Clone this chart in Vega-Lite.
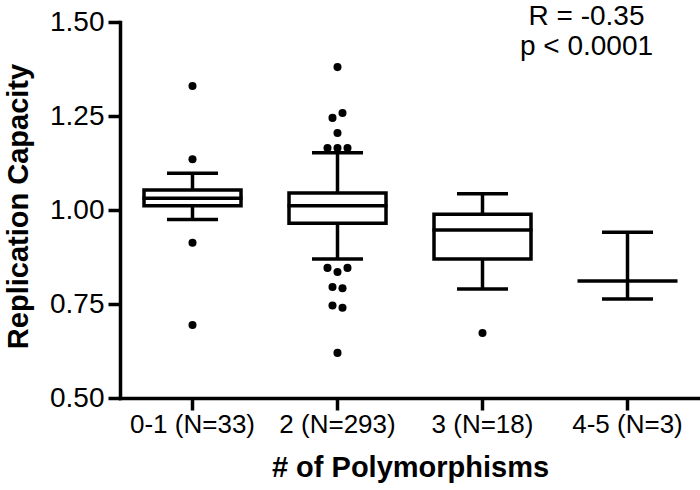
{
  "$schema": "https://vega.github.io/schema/vega-lite/v6.json",
  "width": 580,
  "height": 376,
  "autosize": {"type": "none"},
  "padding": {"left": 120, "top": 22, "right": 0, "bottom": 92},
  "background": "white",
  "config": {
    "view": {"stroke": null},
    "axis": {
      "domainColor": "black", "domainWidth": 3.5, "domainCap": "square",
      "tickColor": "black", "tickWidth": 3.5, "tickSize": 12,
      "labelColor": "black", "labelFont": "Liberation Sans",
      "titleFont": "Liberation Sans", "titleFontWeight": "bold", "titleFontSize": 29, "titleColor": "black",
      "grid": false
    },
    "axisX": {"labelFontSize": 26, "labelPadding": 1, "labelAngle": 0},
    "axisY": {"labelFontSize": 28, "labelPadding": 4}
  },
  "datasets": {
    "stats": [
      {"g": "0-1 (N=33)", "lo": 0.975, "q1": 1.011, "med": 1.031, "q3": 1.053, "hi": 1.098},
      {"g": "2 (N=293)", "lo": 0.870, "q1": 0.965, "med": 1.011, "q3": 1.045, "hi": 1.152},
      {"g": "3 (N=18)", "lo": 0.790, "q1": 0.870, "med": 0.947, "q3": 0.989, "hi": 1.043},
      {"g": "4-5 (N=3)", "lo": 0.763, "q1": null, "med": 0.811, "q3": null, "hi": 0.941}
    ],
    "out": [
      {"g": "0-1 (N=33)", "v": 1.330, "j": 0},
      {"g": "0-1 (N=33)", "v": 1.135, "j": 0},
      {"g": "0-1 (N=33)", "v": 0.913, "j": 0},
      {"g": "0-1 (N=33)", "v": 0.694, "j": 0},
      {"g": "2 (N=293)", "v": 1.380, "j": 0},
      {"g": "2 (N=293)", "v": 1.258, "j": 0.5},
      {"g": "2 (N=293)", "v": 1.245, "j": -0.5},
      {"g": "2 (N=293)", "v": 1.205, "j": 0},
      {"g": "2 (N=293)", "v": 1.165, "j": -1},
      {"g": "2 (N=293)", "v": 1.165, "j": 0},
      {"g": "2 (N=293)", "v": 1.165, "j": 1},
      {"g": "2 (N=293)", "v": 0.846, "j": -1},
      {"g": "2 (N=293)", "v": 0.835, "j": 0},
      {"g": "2 (N=293)", "v": 0.846, "j": 1},
      {"g": "2 (N=293)", "v": 0.795, "j": -0.5},
      {"g": "2 (N=293)", "v": 0.792, "j": 0.5},
      {"g": "2 (N=293)", "v": 0.746, "j": -0.5},
      {"g": "2 (N=293)", "v": 0.740, "j": 0.5},
      {"g": "2 (N=293)", "v": 0.620, "j": 0},
      {"g": "3 (N=18)", "v": 0.673, "j": 0}
    ]
  },
  "encoding": {
    "x": {
      "field": "g", "type": "nominal", "sort": null,
      "scale": {"domain": ["0-1 (N=33)", "2 (N=293)", "3 (N=18)", "4-5 (N=3)"], "paddingInner": 0, "paddingOuter": 0},
      "axis": {"title": "# of Polymorphisms", "titleBaseline": "alphabetic", "titleY": 78, "titleX": 290, "titleAlign": "center"}
    }
  },
  "layer": [
    {
      "data": {"name": "stats"},
      "mark": {"type": "rule", "color": "black", "strokeWidth": 3.5},
      "encoding": {
        "y": {
          "field": "lo", "type": "quantitative",
          "scale": {"domain": [0.5, 1.5], "nice": false, "zero": false},
          "axis": {"title": "Replication Capacity", "values": [0.5, 0.75, 1.0, 1.25, 1.5], "format": ".2f",
                   "titleAngle": -90, "titleX": -93, "titleY": 184, "titleBaseline": "alphabetic", "titleAlign": "center"}
        },
        "y2": {"field": "hi"}
      }
    },
    {
      "data": {"name": "stats"},
      "mark": {"type": "bar", "size": 97, "fill": "white", "stroke": "black", "strokeWidth": 3.5},
      "encoding": {
        "y": {"field": "q1", "type": "quantitative", "title": "Replication Capacity"},
        "y2": {"field": "q3"}
      }
    },
    {
      "data": {"name": "stats"},
      "mark": {"type": "tick", "size": 100, "thickness": 3.5, "color": "black", "opacity": 1},
      "encoding": {"y": {"field": "med", "type": "quantitative", "title": "Replication Capacity"}}
    },
    {
      "data": {"name": "stats"},
      "mark": {"type": "tick", "size": 51, "thickness": 3.5, "color": "black", "opacity": 1},
      "encoding": {"y": {"field": "lo", "type": "quantitative", "title": "Replication Capacity"}}
    },
    {
      "data": {"name": "stats"},
      "mark": {"type": "tick", "size": 51, "thickness": 3.5, "color": "black", "opacity": 1},
      "encoding": {"y": {"field": "hi", "type": "quantitative", "title": "Replication Capacity"}}
    },
    {
      "data": {"name": "out"},
      "mark": {"type": "circle", "size": 65, "color": "black", "opacity": 1},
      "encoding": {
        "y": {"field": "v", "type": "quantitative", "title": "Replication Capacity"},
        "xOffset": {"field": "j", "type": "quantitative", "scale": {"domain": [-1, 1], "range": [62.5, 82.5]}}
      }
    },
    {
      "data": {"values": [{}]},
      "mark": {"type": "text", "font": "Liberation Sans", "fontSize": 28, "color": "black", "align": "center", "baseline": "top", "dx": -41},
      "encoding": {
        "x": {"datum": "4-5 (N=3)", "type": "nominal"},
        "y": {"datum": 1.551, "type": "quantitative", "title": "Replication Capacity"},
        "text": {"value": "R = -0.35"}
      }
    },
    {
      "data": {"values": [{}]},
      "mark": {"type": "text", "font": "Liberation Sans", "fontSize": 28, "color": "black", "align": "center", "baseline": "top", "dx": -41},
      "encoding": {
        "x": {"datum": "4-5 (N=3)", "type": "nominal"},
        "y": {"datum": 1.471, "type": "quantitative", "title": "Replication Capacity"},
        "text": {"value": "p < 0.0001"}
      }
    }
  ]
}
